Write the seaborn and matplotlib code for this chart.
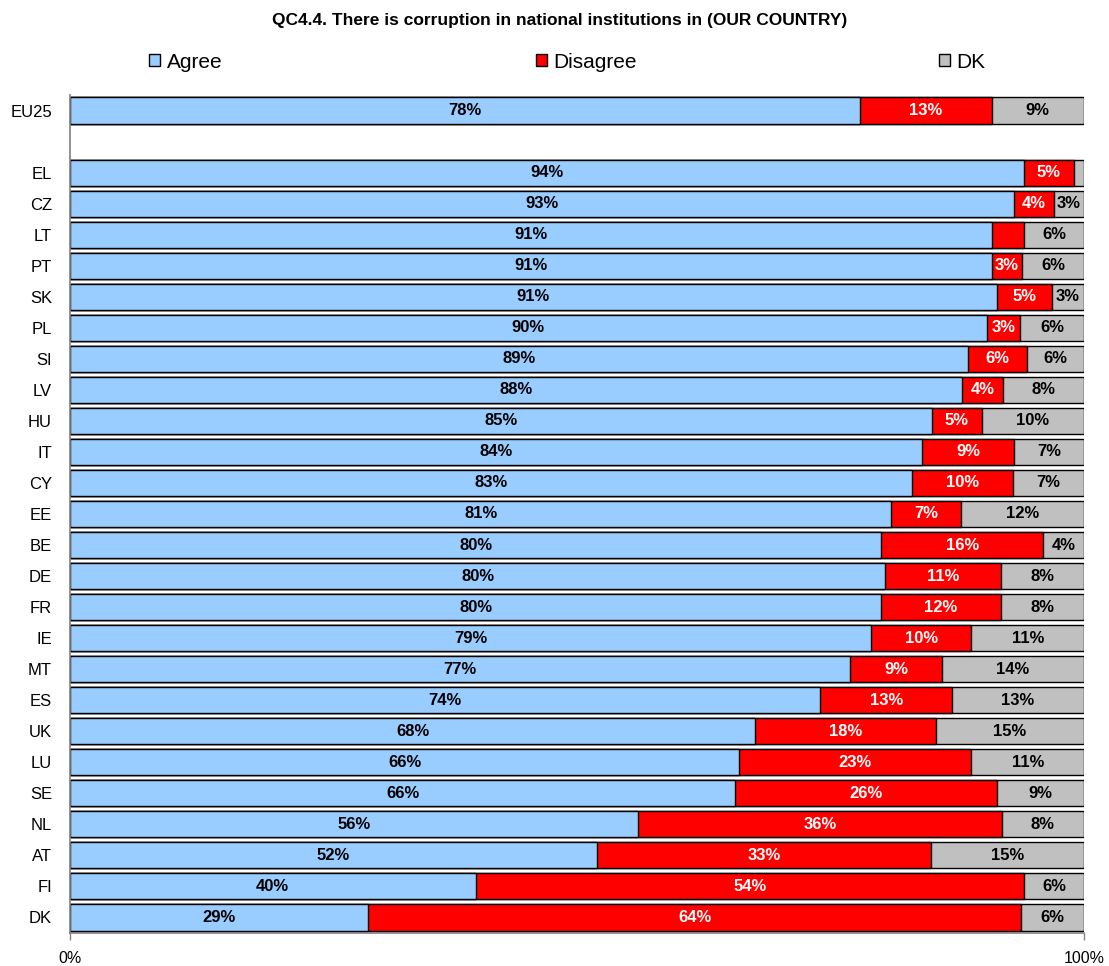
import numpy as np
import pandas as pd
import matplotlib
matplotlib.use("Agg")
import matplotlib.pyplot as plt
from matplotlib.patches import Patch
import seaborn as sns

# ---------------- data ----------------
title = "QC4.4. There is corruption in national institutions in (OUR COUNTRY)"
series_names = ["Agree", "Disagree", "DK"]
countries = ["EU25", "EL", "CZ", "LT", "PT", "SK", "PL", "SI", "LV", "HU", "IT", "CY",
             "EE", "BE", "DE", "FR", "IE", "MT", "ES", "UK", "LU", "SE", "NL", "AT",
             "FI", "DK"]
agree = [77.9, 94.1, 93.1, 90.9, 90.9, 91.4, 90.4, 88.6, 88.0, 85.0, 84.0, 83.0,
         81.0, 80.0, 80.4, 80.0, 79.0, 76.9, 74.0, 67.6, 66.0, 65.6, 56.0, 52.0,
         40.0, 29.4]
disagree = [13.0, 4.9, 3.9, 3.2, 3.0, 5.4, 3.3, 5.8, 4.0, 4.9, 9.1, 10.0,
            6.9, 16.0, 11.4, 11.8, 9.9, 9.1, 13.0, 17.8, 22.9, 25.8, 35.9, 32.9,
            54.1, 64.4]
dk = [9.1, 1.0, 3.0, 5.9, 6.1, 3.2, 6.3, 5.6, 8.0, 10.1, 6.9, 7.0,
      12.1, 4.0, 8.2, 8.2, 11.1, 14.0, 13.0, 14.6, 11.1, 8.6, 8.1, 15.1,
      5.9, 6.2]
# segments whose value label is not printed in the original
hidden_labels = [("LT", "Disagree"), ("EL", "DK")]
x_ticks = [0, 100]
x_tick_labels = ["0%", "100%"]

colors = {"Agree": "#99CCFF", "Disagree": "#FF0000", "DK": "#C0C0C0"}
text_colors = {"Agree": "black", "Disagree": "white", "DK": "black"}

# ---------------- figure ----------------
sns.set_theme(style="white")
plt.rcParams["font.family"] = ["Liberation Sans", "DejaVu Sans"]
plt.rcParams["text.color"] = "black"
plt.rcParams["xtick.color"] = "black"
plt.rcParams["ytick.color"] = "black"

df = pd.DataFrame({"country": countries, "Agree": agree,
                   "Disagree": disagree, "DK": dk})
df["cum_ad"] = df["Agree"] + df["Disagree"]
df["cum_all"] = df["cum_ad"] + df["DK"]

blank = " "
order = [countries[0], blank] + countries[1:]

fig = plt.figure(figsize=(11.09, 9.66), dpi=100)
ax = fig.add_axes([70 / 1109, 1 - 933 / 966, 1014 / 1109, 838 / 966])

common = dict(y="country", order=order, orient="h", edgecolor="black",
              linewidth=1.0, width=0.84, saturation=1, errorbar=None, ax=ax)
sns.barplot(data=df, x="cum_all", color=colors["DK"], **common)
sns.barplot(data=df, x="cum_ad", color=colors["Disagree"], **common)
sns.barplot(data=df, x="Agree", color=colors["Agree"], **common)

# value labels
for _, row in df.iterrows():
    ypos = order.index(row["country"])
    start = 0.0
    for s in series_names:
        v = row[s]
        if (row["country"], s) not in hidden_labels:
            ax.text(start + v / 2, ypos, f"{round(v)}%", ha="center", va="center",
                    fontsize=12, fontweight="bold", color=text_colors[s])
        start += v

ax.set_xlim(0, 100)
ax.set_ylim(len(order) - 0.5, -0.5)
ax.set_xlabel("")
ax.set_ylabel("")
ax.set_xticks(x_ticks)
ax.set_xticklabels(x_tick_labels, fontsize=11.5)
ax.set_yticks(range(len(order)))
ax.set_yticklabels(order, fontsize=12)
ax.set_yticks(np.arange(-0.5, len(order), 1), minor=True)
ax.tick_params(axis="y", which="major", length=0, pad=13, labelcolor="black")
ax.tick_params(axis="y", which="minor", length=5, width=1, color="#808080", direction="out")
ax.tick_params(axis="x", which="major", length=5, width=1, color="#808080",
               direction="out", pad=8, bottom=True, labelcolor="black")
for sp in ["top", "right"]:
    ax.spines[sp].set_visible(False)
for sp in ["left", "bottom"]:
    ax.spines[sp].set_color("#808080")
    ax.spines[sp].set_linewidth(1.2)
ax.grid(False)

# title
fig.text(559.5 / 1109, 1 - 20 / 966, title, ha="center", va="center",
         fontsize=12.5, fontweight="bold", color="black")

# legend: three separate entries spread across the top
legend_x = [149, 536, 939]
for name, lx in zip(series_names, legend_x):
    leg = fig.legend(handles=[Patch(facecolor=colors[name], edgecolor="black", linewidth=1)],
                     labels=[name], loc="center left",
                     bbox_to_anchor=(lx / 1109, 1 - 62 / 966),
                     frameon=False, fontsize=15, handlelength=0.55, handleheight=0.55,
                     handletextpad=0.3, borderpad=0, borderaxespad=0)
    for t in leg.get_texts():
        t.set_color("black")

fig.savefig("out.png", dpi=100)
